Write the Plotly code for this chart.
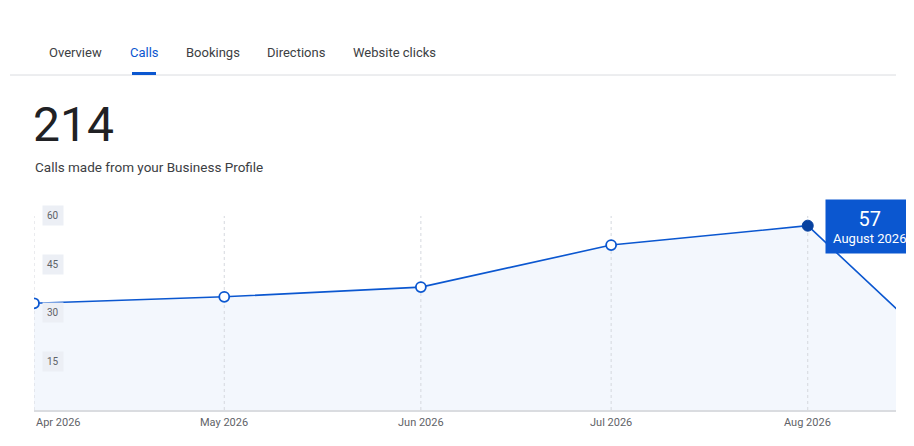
import plotly.graph_objects as go

months = ["2026-04-01", "2026-05-01", "2026-06-01", "2026-07-01", "2026-08-01", "2026-09-01"]
calls = [33, 35, 38, 51, 57, 0]
month_labels = ["Apr 2026", "May 2026", "Jun 2026", "Jul 2026", "Aug 2026"]
y_ticks = [15, 30, 45, 60]
tabs = ["Overview", "Calls", "Bookings", "Directions", "Website clicks"]
tab_x = [75, 144, 213, 296, 394]
total = "214"
subtitle = "Calls made from your Business Profile"
highlight = 4
hl_label = "August 2026"

W, H = 914, 446
OFF = 8  # page body margin
px = lambda v: (v - OFF) / W
py = lambda v: 1 - (v - OFF) / H
FONT = "Roboto"
BLUE = "#0b57d0"

fig = go.Figure()
# area fill (no outline)
fig.add_trace(go.Scatter(x=months, y=calls, mode="lines", line=dict(width=0),
                         fill="tozeroy", fillcolor="#f3f7fd", hoverinfo="skip"))
# dotted month grid lines drawn over the fill
for m in months[:5]:
    fig.add_trace(go.Scatter(x=[m, m], y=[0, max(y_ticks)], mode="lines", hoverinfo="skip",
                             line=dict(color="#d5d8de", width=1, dash="dot")))
fig.add_trace(go.Scatter(x=months, y=calls, mode="lines", line=dict(color=BLUE, width=1.6),
                         hoverinfo="skip"))
fig.add_trace(go.Scatter(
    x=[m for i, m in enumerate(months) if i != highlight],
    y=[c for i, c in enumerate(calls) if i != highlight],
    mode="markers", marker=dict(size=10, color="white", line=dict(color=BLUE, width=1.8))))
fig.add_trace(go.Scatter(
    x=[months[highlight]], y=[calls[highlight]], mode="markers",
    marker=dict(size=11, color="#0842a0", line=dict(color="#0842a0", width=1))))

anns = []
for i, (t, xx) in enumerate(zip(tabs, tab_x)):
    anns.append(dict(x=px(xx), y=py(53), xref="paper", yref="paper", text=t, showarrow=False,
                     xanchor="center", yanchor="middle",
                     font=dict(family=FONT, size=13, color=BLUE if i == 1 else "#3c4043")))
anns.append(dict(x=px(31), y=py(125), xref="paper", yref="paper", text=total, showarrow=False,
                 xanchor="left", yanchor="middle", font=dict(family=FONT, size=48, color="#202124")))
anns.append(dict(x=px(33), y=py(167), xref="paper", yref="paper", text=subtitle, showarrow=False,
                 xanchor="left", yanchor="middle", font=dict(family=FONT, size=13.5, color="#3c4043")))
for t in y_ticks:
    anns.append(dict(x=px(53), y=t, xref="paper", yref="y", text=str(t), showarrow=False,
                     xanchor="center", yanchor="middle",
                     bgcolor="#eceff5", borderpad=4, font=dict(family=FONT, size=10, color="#5f6368")))
for i, (m, lab) in enumerate(zip(months, month_labels)):
    anns.append(dict(x=m, y=py(422), xref="x", yref="paper", text=lab, showarrow=False,
                     xanchor="left" if i == 0 else "center", yanchor="middle",
                     font=dict(family=FONT, size=11, color="#5f6368")))
anns.append(dict(x=px(825), y=py(226), xref="paper", yref="paper", xanchor="left", yanchor="middle",
                 text=f"<span style='font-size:20px'>{calls[highlight]}</span><br>{hl_label}",
                 showarrow=False, bgcolor=BLUE, borderpad=7, align="center",
                 font=dict(family=FONT, size=13, color="white")))

shapes = [
    dict(type="line", xref="paper", yref="paper", x0=px(10), x1=px(896), y0=py(75), y1=py(75),
         line=dict(color="#dadce0", width=1)),
    dict(type="rect", xref="paper", yref="paper", x0=px(132), x1=px(156), y0=py(75), y1=py(72),
         fillcolor=BLUE, line=dict(width=0)),
]

fig.update_layout(
    width=W, height=H, margin=dict(l=0, r=0, t=0, b=0, autoexpand=False),
    paper_bgcolor="white", plot_bgcolor="white", showlegend=False,
    annotations=anns, shapes=shapes,
    xaxis=dict(domain=[px(34), px(896)], range=["2026-04-01", "2026-08-14 22:00"],
               showticklabels=False, ticks="", automargin=False, showgrid=False,
               showline=True, linecolor="#dadce0", linewidth=1.5, zeroline=False),
    yaxis=dict(domain=[py(410), py(209.5)], range=[0, 62], showticklabels=False,
               showgrid=False, zeroline=False, automargin=False),
)
fig.write_html("out.html")
